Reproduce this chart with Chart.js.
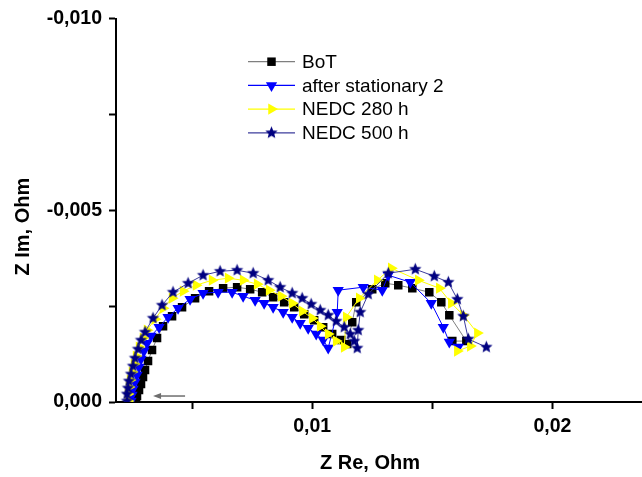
<!DOCTYPE html>
<html>
<head>
<meta charset="utf-8">
<script src="https://cdn.jsdelivr.net/npm/chart.js@4.4.0/dist/chart.umd.min.js"></script>
<style>
  html, body { margin: 0; padding: 0; background: #fff; overflow: hidden; }
  #nyquist { display: block; }
</style>
</head>
<body>
<canvas id="nyquist" width="649" height="477"></canvas>
<script>
// series labels (legend order)
const seriesNames = ['BoT', 'after stationary 2', 'NEDC 280 h', 'NEDC 500 h'];

// BoT
const botRe = [0.002667,0.002708,0.002792,0.002875,0.002958,0.003042,0.003167,0.003333,0.003542,0.003792,0.004167,0.004583,0.005125,0.005708,0.006292,0.006875,0.007417,0.007917,0.008375,0.008833,0.00925,0.009667,0.010083,0.010458,0.010833,0.011208,0.011458,0.011667,0.011833,0.0125,0.013042,0.013583,0.014167,0.014875,0.015375,0.015708,0.016417,0.015833];
const botIm = [-0.000026,-0.000156,-0.000313,-0.000469,-0.000651,-0.000833,-0.001068,-0.001354,-0.001667,-0.001979,-0.00224,-0.002474,-0.002708,-0.002891,-0.002969,-0.002995,-0.002943,-0.002865,-0.002734,-0.002604,-0.002474,-0.002292,-0.002135,-0.001953,-0.001771,-0.001615,-0.00151,-0.002083,-0.002604,-0.002943,-0.003099,-0.003047,-0.002969,-0.002865,-0.002604,-0.002266,-0.001589,-0.001589];

// after stationary 2
const st2Re = [0.002458,0.0025,0.002542,0.002625,0.002708,0.002792,0.002875,0.003,0.003125,0.003292,0.003625,0.004,0.004417,0.004917,0.005458,0.006083,0.006667,0.007125,0.007625,0.008,0.008375,0.008792,0.009167,0.0095,0.009833,0.010167,0.010458,0.010667,0.011042,0.011083,0.012125,0.012917,0.013167,0.014083,0.014958,0.015458,0.015708,0.016083];
const st2Im = [-0.000026,-0.000182,-0.000339,-0.000521,-0.000703,-0.000911,-0.00112,-0.001328,-0.001536,-0.001719,-0.001953,-0.002214,-0.002448,-0.002682,-0.002839,-0.002865,-0.002865,-0.00276,-0.002656,-0.002578,-0.002474,-0.002344,-0.002214,-0.002057,-0.001927,-0.001771,-0.001615,-0.001406,-0.002344,-0.002917,-0.002995,-0.002917,-0.003307,-0.003125,-0.002578,-0.001953,-0.001563,-0.001432];

// NEDC 280 h
const n280Re = [0.002333,0.002333,0.002375,0.002417,0.0025,0.002583,0.002667,0.002792,0.002958,0.003125,0.003458,0.003792,0.004167,0.004625,0.005167,0.005833,0.0065,0.007125,0.007708,0.008208,0.008708,0.009167,0.009583,0.01,0.010333,0.010667,0.011,0.011333,0.011417,0.011958,0.012708,0.013292,0.014417,0.015292,0.015792,0.016292,0.016875,0.016583,0.016042];
const n280Im = [-0.000026,-0.000208,-0.000391,-0.000573,-0.000781,-0.00099,-0.001198,-0.001432,-0.001667,-0.001875,-0.002161,-0.002448,-0.002708,-0.002891,-0.003047,-0.003177,-0.003229,-0.003177,-0.003073,-0.002917,-0.00276,-0.002578,-0.00237,-0.002188,-0.001979,-0.001771,-0.001589,-0.001432,-0.002214,-0.002708,-0.003177,-0.00349,-0.003177,-0.002969,-0.002578,-0.002266,-0.001797,-0.001458,-0.001328];

// NEDC 500 h
const n500Re = [0.002292,0.002292,0.002333,0.002375,0.002458,0.002542,0.002625,0.00275,0.002875,0.003042,0.003375,0.00375,0.004208,0.004833,0.005458,0.006167,0.006875,0.007542,0.008167,0.008667,0.009167,0.009583,0.009958,0.010333,0.010667,0.011,0.011333,0.011583,0.01175,0.011875,0.011917,0.012,0.012333,0.013167,0.014292,0.015083,0.015667,0.016042,0.016292,0.0165,0.01725];
const n500Im = [-0.000026,-0.000208,-0.000365,-0.000547,-0.000729,-0.000938,-0.001146,-0.00138,-0.001615,-0.001823,-0.002188,-0.002526,-0.002865,-0.003099,-0.003307,-0.003411,-0.003438,-0.003359,-0.003177,-0.002995,-0.002839,-0.002708,-0.002552,-0.002396,-0.002266,-0.002109,-0.001953,-0.001771,-0.001589,-0.001406,-0.001875,-0.002344,-0.002813,-0.003359,-0.003464,-0.003281,-0.003125,-0.002682,-0.00224,-0.001641,-0.001432];

// axis ticks and titles
const reTicks = [0.005, 0.01, 0.015, 0.02];
const imTicks = [-0.01, -0.0075, -0.005, -0.0025, 0];
const reTitle = 'Z Re, Ohm';
const imTitle = 'Z Im, Ohm';

// grey arrow near the origin (tail -> head)
const arrowRe = [0.004708, 0.003375];
const arrowIm = [-0.000156, -0.000156];

const FONT = "Arial, 'Liberation Sans', sans-serif";

function pts(re, im) {
    return re.map((x, i) => ({ x: x, y: im[i] }));
}

// filled five-point star marker
function makeStar(r, color) {
    const c = document.createElement('canvas');
    const s = Math.ceil(r * 2) + 2;
    c.width = s; c.height = s;
    const g = c.getContext('2d');
    g.fillStyle = color;
    g.beginPath();
    for (let i = 0; i < 10; i++) {
        const rr = i % 2 ? r * 0.45 : r;
        const a = -Math.PI / 2 + i * Math.PI / 5;
        g.lineTo(s / 2 + rr * Math.cos(a), s / 2 + rr * Math.sin(a));
    }
    g.closePath();
    g.fill();
    return c;
}
const starImg = makeStar(6.5, '#000080');

// legend drawn inside the plot area
const innerLegend = {
    id: 'innerLegend',
    afterDraw(chart) {
        const ctx = chart.ctx;
        const a = chart.chartArea;
        const x0 = a.left + 132, x1 = a.left + 179, tx = a.left + 186;
        ctx.save();
        ctx.font = '19px ' + FONT;
        ctx.textBaseline = 'middle';
        chart.data.datasets.forEach((ds, i) => {
            const y = a.top + 43 + i * 23.7;
            ctx.strokeStyle = ds.borderColor;
            ctx.lineWidth = 1.2;
            ctx.beginPath();
            ctx.moveTo(x0, y); ctx.lineTo(x1, y);
            ctx.stroke();
            ctx.fillStyle = ds.pointBackgroundColor;
            Chart.helpers.drawPoint(ctx, {
                pointStyle: ds.pointStyle, rotation: ds.pointRotation || 0,
                radius: ds.pointRadius, borderWidth: 0
            }, (x0 + x1) / 2, y);
            ctx.fillStyle = '#000';
            ctx.fillText(ds.label, tx, y + 1);
        });
        ctx.restore();
    }
};

// arrow + axis titles
const extras = {
    id: 'extras',
    afterDraw(chart) {
        const xs = chart.scales.x, ys = chart.scales.y, ctx = chart.ctx;
        const a = chart.chartArea;
        const x0 = xs.getPixelForValue(arrowRe[0]), y0 = ys.getPixelForValue(arrowIm[0]);
        const x1 = xs.getPixelForValue(arrowRe[1]), y1 = ys.getPixelForValue(arrowIm[1]);
        ctx.save();
        ctx.strokeStyle = '#6e6e6e';
        ctx.fillStyle = '#6e6e6e';
        ctx.lineWidth = 1.5;
        ctx.beginPath();
        ctx.moveTo(x0, y0); ctx.lineTo(x1 + 6, y1);
        ctx.stroke();
        ctx.beginPath();
        ctx.moveTo(x1, y1); ctx.lineTo(x1 + 8, y1 - 3); ctx.lineTo(x1 + 8, y1 + 3);
        ctx.closePath();
        ctx.fill();

        ctx.fillStyle = '#000';
        ctx.font = 'bold 20px ' + FONT;
        ctx.textAlign = 'center';
        ctx.textBaseline = 'middle';
        ctx.fillText(reTitle, a.left + 254, a.bottom + 61);
        ctx.translate(23, a.top + 208);
        ctx.rotate(-Math.PI / 2);
        ctx.fillText(imTitle, 0, 0);
        ctx.restore();
    }
};

const ctx = document.getElementById('nyquist').getContext('2d');
const chart = new Chart(ctx, {
    type: 'scatter',
    data: {
        datasets: [{
            label: seriesNames[0],
            data: pts(botRe, botIm),
            showLine: true,
            borderColor: '#7f7f7f',
            borderWidth: 1,
            pointStyle: 'rect',
            pointRadius: 6,
            pointBackgroundColor: '#000',
            pointBorderWidth: 0,
            order: 3
        }, {
            label: seriesNames[1],
            data: pts(st2Re, st2Im),
            showLine: true,
            borderColor: '#0000ff',
            borderWidth: 1,
            pointStyle: 'triangle',
            pointRotation: 180,
            pointRadius: 6.5,
            pointBackgroundColor: '#0000ff',
            pointBorderWidth: 0,
            order: 2
        }, {
            label: seriesNames[2],
            data: pts(n280Re, n280Im),
            showLine: true,
            borderColor: '#ffff00',
            borderWidth: 1,
            pointStyle: 'triangle',
            pointRotation: 90,
            pointRadius: 6.5,
            pointBackgroundColor: '#ffff00',
            pointBorderWidth: 0,
            order: 1
        }, {
            label: seriesNames[3],
            data: pts(n500Re, n500Im),
            showLine: true,
            borderColor: '#3c3c9c',
            borderWidth: 1,
            pointStyle: starImg,
            pointRadius: 6.5,
            pointBackgroundColor: '#000080',
            pointBorderWidth: 0,
            order: 0
        }]
    },
    options: {
        responsive: false,
        animation: false,
        devicePixelRatio: 1,
        layout: { padding: { top: 18, right: 0, left: 0, bottom: 0 } },
        plugins: { legend: { display: false }, tooltip: { enabled: false } },
        scales: {
            x: {
                type: 'linear',
                min: 0.001833,
                max: 0.02375,
                afterBuildTicks: (s) => { s.ticks = reTicks.map(v => ({ value: v })); },
                afterFit: (s) => { s.height = 75; },
                grid: { display: true, drawOnChartArea: false, tickLength: 7, tickColor: '#000', tickWidth: 2 },
                border: { display: true, color: '#000', width: 2 },
                ticks: {
                    color: '#000',
                    padding: 6,
                    font: { family: FONT, size: 19.5, weight: 'bold' },
                    callback: (v) => (Math.abs(v * 100 - Math.round(v * 100)) < 1e-6) ? v.toFixed(2).replace('.', ',') : ''
                },
                title: { display: false }
            },
            y: {
                type: 'linear',
                reverse: true,
                min: -0.01,
                max: 0,
                afterBuildTicks: (s) => { s.ticks = imTicks.map(v => ({ value: v })); },
                afterFit: (s) => { s.width = 116; },
                grid: { display: true, drawOnChartArea: false, tickLength: 7, tickColor: '#000', tickWidth: 2 },
                border: { display: true, color: '#000', width: 2 },
                ticks: {
                    color: '#000',
                    padding: 7,
                    font: { family: FONT, size: 19.5, weight: 'bold' },
                    callback: (v) => {
                        if (Math.abs(v * 200 - Math.round(v * 200)) > 1e-6) return '';
                        if (Math.abs(v) < 1e-9) return '0,000';
                        return v.toFixed(3).replace('.', ',');
                    }
                },
                title: { display: false }
            }
        }
    },
    plugins: [innerLegend, extras]
});
</script>
</body>
</html>
